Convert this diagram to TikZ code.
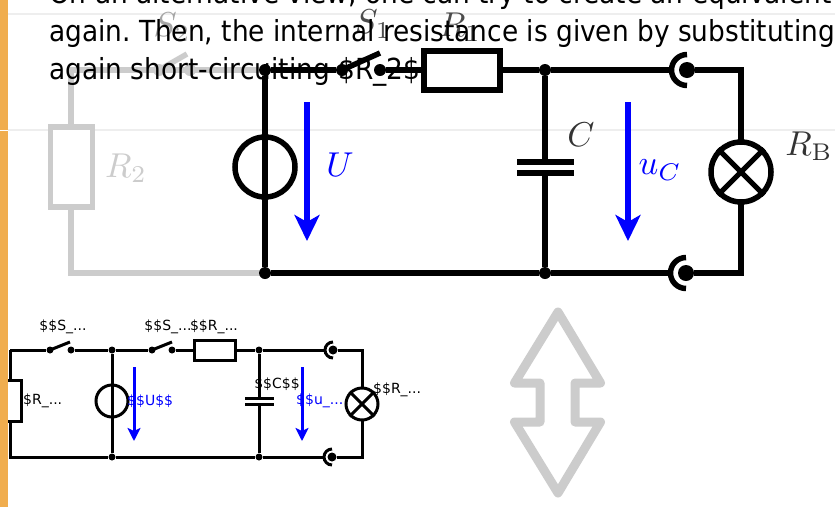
\documentclass[tikz,border=0pt]{standalone}
\usepackage[no-math]{fontspec}
\setmainfont{DejaVu Sans}
\frenchspacing
\usetikzlibrary{arrows.meta}
\definecolor{lightwire}{HTML}{CCCCCC}
\definecolor{barorange}{HTML}{F0AD4E}
\definecolor{rule}{HTML}{EEEEEE}
\tikzset{
  bigwire/.style={draw=black,line width=5.5pt,line join=miter},
  greywire/.style={draw=lightwire,line width=5.5pt},
  smallwire/.style={draw=black,line width=3pt},
  bigdot/.style={circle,fill=black,inner sep=0pt,minimum size=12pt},
  greydot/.style={circle,fill=lightwire,inner sep=0pt,minimum size=12pt},
  smalldot/.style={circle,fill=black,inner sep=0pt,minimum size=7pt},
  termbig/.style={circle,fill=black,inner sep=0pt,minimum size=16pt},
  termsmall/.style={circle,fill=black,inner sep=0pt,minimum size=9pt},
  bigbox/.style={rectangle,draw=black,line width=5.5pt,fill=white,inner sep=0pt,minimum width=76pt,minimum height=39pt},
  greybox/.style={rectangle,draw=lightwire,line width=5.5pt,fill=white,inner sep=0pt,minimum width=42pt,minimum height=80pt},
  smallbox/.style={rectangle,draw=black,line width=3pt,fill=white,inner sep=0pt,minimum width=41pt,minimum height=20pt},
  smallbox2/.style={rectangle,draw=black,line width=3pt,fill=white,inner sep=0pt,minimum width=22pt,minimum height=41pt},
  bigring/.style={circle,draw=black,line width=5.5pt,inner sep=0pt,minimum size=60pt},
  smallring/.style={circle,draw=black,line width=3pt,inner sep=0pt,minimum size=32pt},
  bigarrow/.style={draw=blue,fill=blue,line width=5.5pt,-{Stealth[length=26pt,width=25pt,inset=7pt]}},
  smallarrow/.style={draw=blue,fill=blue,line width=3pt,-{Stealth[length=13pt,width=13pt,inset=3pt]}},
  mathlabel/.style={inner sep=0pt,scale=3.45},
  para/.style={inner sep=0pt,anchor=base west,xscale=.91,font=\fontsize{29}{29}\selectfont},
  small/.style={inner sep=0pt,font=\fontsize{14}{14}\selectfont,text=black},
}
\begin{document}
\begin{tikzpicture}[x=1pt,y=-1pt]
\useasboundingbox (0,0) rectangle (835,507);
\clip (0,0) rectangle (835,507);
\fill[white] (0,0) rectangle (835,507);
\draw[rule,line width=1.6pt] (8,14) -- (835,14);
\draw[rule,line width=1.6pt] (0,130) -- (835,130);

% large circuit: grey part
\coordinate (gTL) at (71,70);
\coordinate (gBL) at (71,273);
\node[greydot] (gs1) at (159,70) {};
\node[greydot] (gs2) at (190,70) {};
\coordinate (garm) at (187,54);
\node[bigdot] (bTL) at (265,70) {};
\node[bigdot] (bBL) at (265,273) {};
\draw[greywire] (bTL) -- (gTL) -- (gBL) -- (bBL);
\draw[greywire] (gs1.center) -- (garm);
\node[greybox] (R2) at (71.5,167) {};
\node[mathlabel,text=lightwire] (R2l) at (126,168) {$R_2$};
\node[mathlabel,text=black!35] (S2l) at (172,27) {$S_2$};

% large circuit: black part
\node[bigring,fill=white] (U) at (265,167) {};
\node[bigdot] (s1a) at (342,70) {};
\node[bigdot] (s1b) at (380,70) {};
\coordinate (s1arm) at (380,53);
\node[bigdot] (bTM) at (545,70) {};
\node[bigdot] (bBM) at (545,273) {};
\node[termbig] (tT) at (687,70) {};
\node[termbig] (tB) at (686,273) {};
\coordinate (cTR) at (741,70);
\coordinate (cBR) at (741,273);
\coordinate (wTend) at (671,70);
\coordinate (wBend) at (670,273);
\draw[bigwire] (bTL) -- (bBL);
\draw[bigwire] (bTL) -- (s1a);
\draw[bigwire] (s1a.center) -- (s1arm);
\draw[bigwire] (s1b) -- (bTM) -- (wTend);
\draw[bigwire] (tT) -- (cTR) -- (cBR) -- (tB);
\draw[bigwire] (bBL) -- (bBM) -- (wBend);
\draw[bigwire] (bTM) -- (bBM);
\draw[bigwire] (687,54.5) arc[start angle=270,end angle=90,radius=15.5];
\draw[bigwire] (686,257.5) arc[start angle=270,end angle=90,radius=15.5];
\node[bigbox] (R1) at (462,70.5) {};
\node[bigring,fill=white] (L) at (741,172) {};
\draw[bigwire,line width=5pt] (L.45) -- (L.225);
\draw[bigwire,line width=5pt] (L.135) -- (L.315);
\fill[white] (515,165) rectangle (576,170);
\coordinate (c1a) at (517,162);
\coordinate (c1b) at (574,162);
\coordinate (c2a) at (517,173);
\coordinate (c2b) at (574,173);
\draw[bigwire] (c1a) -- (c1b);
\draw[bigwire] (c2a) -- (c2b);
\coordinate (uA) at (307,102);
\coordinate (uB) at (307,241);
\coordinate (ucA) at (628,102);
\coordinate (ucB) at (628,241);
\draw[bigarrow] (uA) -- (uB);
\draw[bigarrow] (ucA) -- (ucB);
\node[mathlabel,text=blue] (Ul) at (340,165) {$U$};
\node[mathlabel,text=blue] (ucl) at (660,170) {$u_C$};
\node[mathlabel,text=black!80] (Cl) at (581,135) {$C$};
\node[mathlabel,text=black!80] (RBl) at (809,146) {$R_\mathrm{B}$};
\node[mathlabel,text=black!70] (S1l) at (373,24) {$S_1$};
\node[mathlabel,text=black!70] (R1l) at (460,27) {$R_1$};

% small circuit
\coordinate (sTL) at (10,350);
\coordinate (sBL) at (10,457);
\node[smallring,fill=white] (sU) at (112,401) {};
\node[smalldot] (a1) at (50,350) {};
\node[smalldot] (a2) at (71,350) {};
\coordinate (a3) at (70,342);
\node[smalldot] (d1) at (112,350) {};
\node[smalldot] (d2) at (112,457) {};
\node[smalldot] (b1) at (152,350) {};
\node[smalldot] (b2) at (172,350) {};
\coordinate (b3) at (172,342);
\node[smalldot] (d3) at (259,350) {};
\node[smalldot] (d4) at (259,457) {};
\node[termsmall] (t1) at (333,350) {};
\node[termsmall] (t2) at (332,457) {};
\coordinate (e1) at (362,350);
\coordinate (e2) at (362,457);
\coordinate (f1) at (325,350);
\coordinate (f2) at (324,457);
\draw[smallwire] (sTL) -- (a1);
\draw[smallwire] (sTL) -- (sBL) -- (d2) -- (d4) -- (f2);
\draw[smallwire] (a1.center) -- (a3);
\draw[smallwire] (a2) -- (d1) -- (b1);
\draw[smallwire] (b1.center) -- (b3);
\draw[smallwire] (b2) -- (d3) -- (f1);
\draw[smallwire] (d1) -- (d2);
\draw[smallwire] (d3) -- (d4);
\draw[smallwire] (t1) -- (e1) -- (e2) -- (t2);
\draw[smallwire] (333,342) arc[start angle=270,end angle=90,radius=8];
\draw[smallwire] (332,449) arc[start angle=270,end angle=90,radius=8];
\node[smallbox] (sR1) at (215,350.5) {};
\node[smallbox2] (sR2) at (10,401) {};
\node[smallring,fill=white] (sL) at (362,404) {};
\draw[smallwire] (sL.45) -- (sL.225);
\draw[smallwire] (sL.135) -- (sL.315);
\fill[white] (243,399.5) rectangle (276,402.5);
\coordinate (p1a) at (245,398);
\coordinate (p1b) at (274,398);
\coordinate (p2a) at (245,404);
\coordinate (p2b) at (274,404);
\draw[smallwire] (p1a) -- (p1b);
\draw[smallwire] (p2a) -- (p2b);
\coordinate (q1a) at (134,367);
\coordinate (q1b) at (134,441);
\coordinate (q2a) at (302,367);
\coordinate (q2b) at (302,441);
\draw[smallarrow] (q1a) -- (q1b);
\draw[smallarrow] (q2a) -- (q2b);

\node[small] (ls1) at (63,327) {\$\$S\_...};
\node[small] (ls2) at (168,327) {\$\$S\_...};
\node[small] (lr1) at (214,327) {\$\$R\_...};
\node[small,anchor=west] (lr2) at (23,401) {\$R\_...};
\node[small,anchor=west,text=blue] (lu) at (127,401) {\$\$U\$\$};
\node[small] (lc) at (277,384) {\$\$C\$\$};
\node[small,anchor=west,text=blue] (luc) at (296,401) {\$\$u\_...};
\node[small,anchor=west] (lrb) at (373,390) {\$\$R\_...};

% left bar
\fill[barorange] (0,0) rectangle (8,507);
\draw[white,line width=1pt] (0,130) -- (8,130);

% grey double arrow
\draw[lightwire,line width=9pt,line join=round] (558,312) -- (600.5,383) -- (575,383) -- (575,422) -- (600.5,422) -- (558,493) -- (514.5,422) -- (540,422) -- (540,383) -- (514.5,383) -- cycle;

% paragraph text
\node[para] (t1l) at (49,3) {On an alternative view, one can try to create an equivalent};
\node[para] (t2l) at (49,41) {again. Then, the internal resistance is given by substituting};
\node[para] (t3l) at (49,79) {again short-circuiting \$R\_2\$.};
\end{tikzpicture}
\end{document}
